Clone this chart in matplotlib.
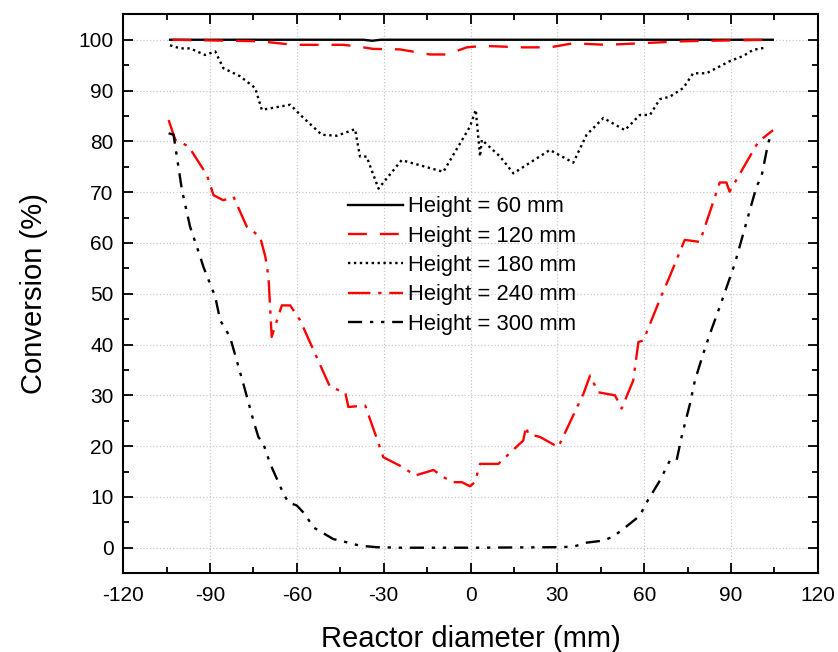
import matplotlib
matplotlib.use("Agg")
from matplotlib import pyplot as plt
from matplotlib.ticker import MultipleLocator

plt.rcParams["font.family"] = ["Liberation Sans", "DejaVu Sans"]
plt.rcParams["axes.unicode_minus"] = False

# Height = 60 mm
x60 = [-103.8, -60, -37, -34, -31, 0, 60, 104.4]
y60 = [100.0, 100.0, 100.0, 99.8, 100.0, 100.0, 100.0, 100.0]

# Height = 120 mm
x120 = [-103, -72.7, -61.2, -44, -39.3, -33.7, -24.4, -14, -8.2, -1.3,
        4.3, 18.1, 27.4, 35.4, 47, 58.5, 73.4, 93, 104.4]
y120 = [100.0, 99.7, 99.0, 99.0, 98.7, 98.2, 98.1, 97.1, 97.1, 98.5,
        98.8, 98.5, 98.5, 99.3, 99.0, 99.3, 99.7, 99.9, 100.0]

# Height = 180 mm
x180 = [-103.8, -100.3, -96.9, -91.7, -88.2, -85.4, -79.6, -74.4, -72.1,
        -62.3, -57.7, -51.4, -46.2, -39.9, -38.2, -35.9, -31.8, -23.8, -9.4,
        -0.2, 1.8, 3.3, 3.9, 10.2, 14.8, 27.4, 35.5, 40.1, 45.9, 53.3, 58.5,
        62.0, 65.4, 68.9, 73.5, 76.9, 81.5, 89.6, 94.2, 97.6, 102.3]
y180 = [98.9, 98.3, 98.3, 97.0, 97.7, 94.4, 92.8, 90.5, 86.2,
        87.2, 84.6, 81.3, 81.1, 82.4, 77.0, 77.0, 70.7, 76.3, 74.0,
        82.9, 86.2, 77.0, 80.3, 77.0, 73.7, 78.3, 75.8, 81.3, 84.6, 82.2, 85.2,
        85.2, 88.3, 88.8, 90.5, 93.4, 93.4, 95.8, 96.8, 98.0, 98.5]

# Height = 240 mm
x240 = [-104.3, -102, -97.4, -91.1, -88.8, -85.4, -81.9, -77.3, -72.7, -70.9,
        -69.8, -68.7, -65.2, -62.3, -58.9, -48.5, -43.3, -42.2, -36.4, -30.1,
        -23.2, -19.2, -12.8, -9.4, -5.9, -3.0, -0.2, 1.5, 3.3, 9.6, 18.2, 19.2,
        19.9, 24.0, 30.3, 39.0, 41.3, 44.1, 49.9, 52.2, 56.2, 58.0, 59.7, 66.0,
        68.3, 74.0, 79.2, 86.1, 88.4, 89.5, 99.4, 104.5]
y240 = [84.2, 80.3, 79.0, 73.4, 69.4, 68.4, 69.1, 63.2, 61.2, 57.3,
        53.3, 41.5, 47.7, 47.7, 44.8, 31.6, 30.6, 27.7, 28.0, 17.8,
        15.8, 14.2, 15.3, 13.9, 12.9, 12.9, 12.1, 12.9, 16.5, 16.5, 21.1, 23.9,
        22.4, 21.8, 19.8, 30.3, 33.9, 30.6, 30.0, 27.4, 32.9, 40.5, 40.8, 49.7,
        52.7, 60.6, 60.2, 71.9, 71.9, 70.1, 79.9, 82.2]

# Height = 300 mm
x300 = [-104.3, -102.6, -99.7, -96.9, -93.4, -92.3, -88.2, -86.5, -83.1,
        -78.5, -75.0, -73.3, -71.6, -69.2, -64.6, -62.9, -60.0, -57.2, -54.3,
        -47.4, -45.1, -38.2, -32.4, -24.5, 0.0, 29.8, 35.5, 40.1, 45.9, 49.3,
        52.8, 58.5, 60.8, 65.4, 68.9, 71.2, 72.9, 75.8, 77.5, 80.4, 82.7, 86.7,
        91.3, 94.2, 98.8, 100.5, 102.8, 104.0]
y300 = [81.6, 81.3, 70.4, 63.2, 57.3, 55.3, 49.4, 44.8, 41.5,
        32.3, 25.0, 21.8, 20.5, 16.5, 10.6, 8.9, 8.3, 6.6, 4.0,
        1.7, 1.4, 0.4, 0.1, 0.0, 0.0, 0.1, 0.2, 1.0, 1.4, 2.2,
        3.7, 6.3, 8.9, 13.2, 17.2, 17.2, 21.8, 28.3, 32.9, 38.2, 42.1, 48.4,
        55.9, 61.8, 71.1, 73.0, 79.6, 81.6]

fig = plt.figure(figsize=(8.38, 6.52), dpi=100)
ax = fig.add_axes([0.147, 0.121, 0.829, 0.857])

lw = 1.7
ax.plot(x60, y60, "-", color="black", lw=lw, label="Height = 60 mm")
ax.plot(x120, y120, color="red", lw=lw, dashes=(8, 5.5), label="Height = 120 mm")
ax.plot(x180, y180, color="black", lw=lw, dashes=(1, 1.5), label="Height = 180 mm")
ax.plot(x240, y240, color="red", lw=lw, dashes=(9.5, 3.3, 1.4, 3.3),
        label="Height = 240 mm")
ax.plot(x300, y300, color="black", lw=lw,
        dashes=(6, 3.3, 1.4, 3.3, 1.4, 3.3), label="Height = 300 mm")

ax.set_xlim(-120, 120)
ax.set_ylim(-5, 105)
ax.xaxis.set_major_locator(MultipleLocator(30))
ax.xaxis.set_minor_locator(MultipleLocator(15))
ax.yaxis.set_major_locator(MultipleLocator(10))
ax.yaxis.set_minor_locator(MultipleLocator(5))
ax.tick_params(which="both", direction="in", top=True, right=True,
               labelsize=15, width=1.3)
ax.tick_params(axis="x", which="major", length=7, pad=9)
ax.tick_params(axis="y", which="major", length=7, pad=7)
ax.tick_params(which="minor", length=4)
for s in ax.spines.values():
    s.set_linewidth(1.5)
ax.grid(True, which="major", linestyle=":", color="#c8c8c8", lw=0.9)

ax.set_xlabel("Reactor diameter (mm)", fontsize=21, labelpad=15)
ax.set_ylabel("Conversion (%)", fontsize=21, labelpad=22)

ax.legend(loc="upper left", bbox_to_anchor=(0.302, 0.702), frameon=False,
          fontsize=15.8, handlelength=2.5, handletextpad=0.2,
          labelspacing=0.38, borderpad=0.2)

fig.savefig("out.png", dpi=100)
